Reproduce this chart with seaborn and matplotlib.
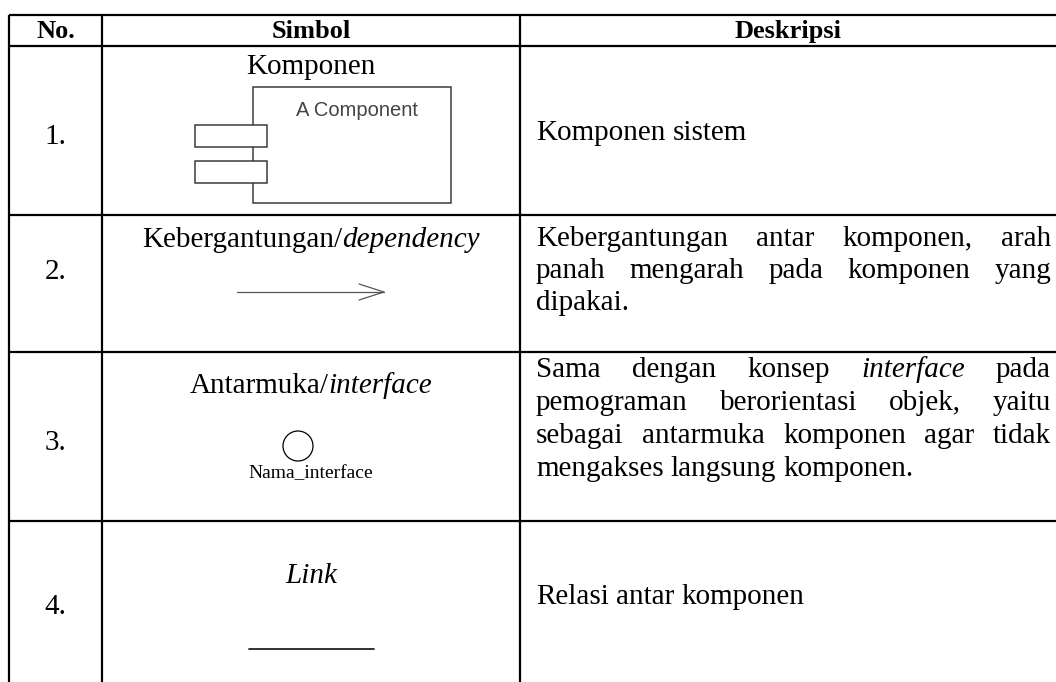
import matplotlib
matplotlib.use("Agg")
import matplotlib.pyplot as plt
import seaborn as sns
from matplotlib.patches import Rectangle, Circle

sns.set_theme(style="white")
plt.rcParams['font.family'] = ['Liberation Serif', 'DejaVu Serif']

# ---------------- data ----------------
headers = ["No.", "Simbol", "Deskripsi"]
numbers = ["1.", "2.", "3.", "4."]
symbol_titles = [
    [("Komponen", "normal")],
    [("Kebergantungan/", "normal"), ("dependency", "italic")],
    [("Antarmuka/", "normal"), ("interface", "italic")],
    [("Link", "italic")],
]
component_label = "A Component"
interface_label = "Nama_interface"
descriptions = [
    ["Komponen sistem"],
    ["Kebergantungan antar komponen, arah",
     "panah mengarah pada komponen yang",
     "dipakai."],
    ["Sama dengan konsep *interface* pada",
     "pemograman berorientasi objek, yaitu",
     "sebagai antarmuka komponen agar tidak",
     "mengakses langsung komponen."],
    ["Relasi antar komponen"],
]

# ---------------- layout (pixels) ----------------
W, H = 1056, 682
col_edges = [9, 102, 520, W]
row_edges = [15, 46, 215, 352, 521, H]
FS = 21
HFS = 19

fig = plt.figure(figsize=(W / 100, H / 100), dpi=100)
ax = fig.add_axes([0, 0, 1, 1])
ax.set_xlim(0, W)
ax.set_ylim(H, 0)
ax.axis("off")
renderer = fig.canvas.get_renderer()

# table rules
lw = 1.6
for y in row_edges[:-1]:
    ax.hlines(y, col_edges[0], W, color="black", lw=lw)
for x in col_edges[:-1]:
    ax.vlines(x, row_edges[0], H, color="black", lw=lw)

def width_of(s, **kw):
    t = ax.text(0, 0, s, **kw)
    w = t.get_window_extent(renderer).width
    t.remove()
    return w

# headers
header_base = 38
for i, h in enumerate(headers):
    cx = (col_edges[i] + col_edges[i + 1]) / 2
    ax.text(cx, header_base, h, ha="center", va="baseline", fontsize=HFS,
            fontweight="bold", color="black")

# numbers
num_base = [144, 279, 450, 614]
cx_no = (col_edges[0] + col_edges[1]) / 2
for n, b in zip(numbers, num_base):
    ax.text(cx_no, b, n, ha="center", va="baseline", fontsize=FS, color="black")

# symbol titles (mixed style, centred)
title_base = [74, 247, 393, 583]
cx_sym = (col_edges[1] + col_edges[2]) / 2
for segs, b in zip(symbol_titles, title_base):
    ws = [width_of(s, fontsize=FS, style=st) for s, st in segs]
    x = cx_sym - sum(ws) / 2
    for (s, st), w in zip(segs, ws):
        ax.text(x, b, s, ha="left", va="baseline", fontsize=FS, style=st,
                color="black")
        x += w

# symbol 1: component
comp_col = "#3a3a3a"
ax.add_patch(Rectangle((253, 87), 198, 116, fill=False, ec=comp_col, lw=1.1))
for y0 in (125, 161):
    ax.add_patch(Rectangle((195, y0), 72, 22, fc="white", ec=comp_col, lw=1.1,
                           zorder=3))
ax.text(296, 116, component_label, ha="left", va="baseline", fontsize=14.5,
        family="Liberation Sans", color="#444444")

# symbol 2: dependency arrow
arr_col = "#555555"
ax.plot([237, 384], [292, 292], color=arr_col, lw=0.9)
ax.plot([359, 384, 359], [284, 292, 300], color=arr_col, lw=0.9)

# symbol 3: interface
ax.add_patch(Circle((298, 446), 15, fill=False, ec="black", lw=0.9))
ax.text(cx_sym - 0.5, 478, interface_label, ha="center", va="baseline",
        fontsize=14, color="black")

# symbol 4: link
ax.plot([249, 374], [649, 649], color="#222222", lw=1.3)

# descriptions (justified)
desc_x0, desc_x1 = 536, 1051
desc_base = [[140], [246, 278, 310], [377, 410, 443, 476], [604]]
sp_w = width_of("a b", fontsize=FS) - width_of("ab", fontsize=FS)
for lines, bases in zip(descriptions, desc_base):
    for li, (line, b) in enumerate(zip(lines, bases)):
        words = []
        for wd in line.split(" "):
            if wd.startswith("*") and wd.endswith("*"):
                words.append((wd.strip("*"), "italic"))
            else:
                words.append((wd, "normal"))
        ws = [width_of(s, fontsize=FS, style=st) for s, st in words]
        last = li == len(lines) - 1
        if last or len(words) == 1:
            gap = sp_w
        else:
            gap = (desc_x1 - desc_x0 - sum(ws)) / (len(words) - 1)
        x = desc_x0
        for (s, st), w in zip(words, ws):
            ax.text(x, b, s, ha="left", va="baseline", fontsize=FS, style=st,
                    color="black")
            x += w + gap

fig.savefig("out.png", dpi=100, facecolor="white")
